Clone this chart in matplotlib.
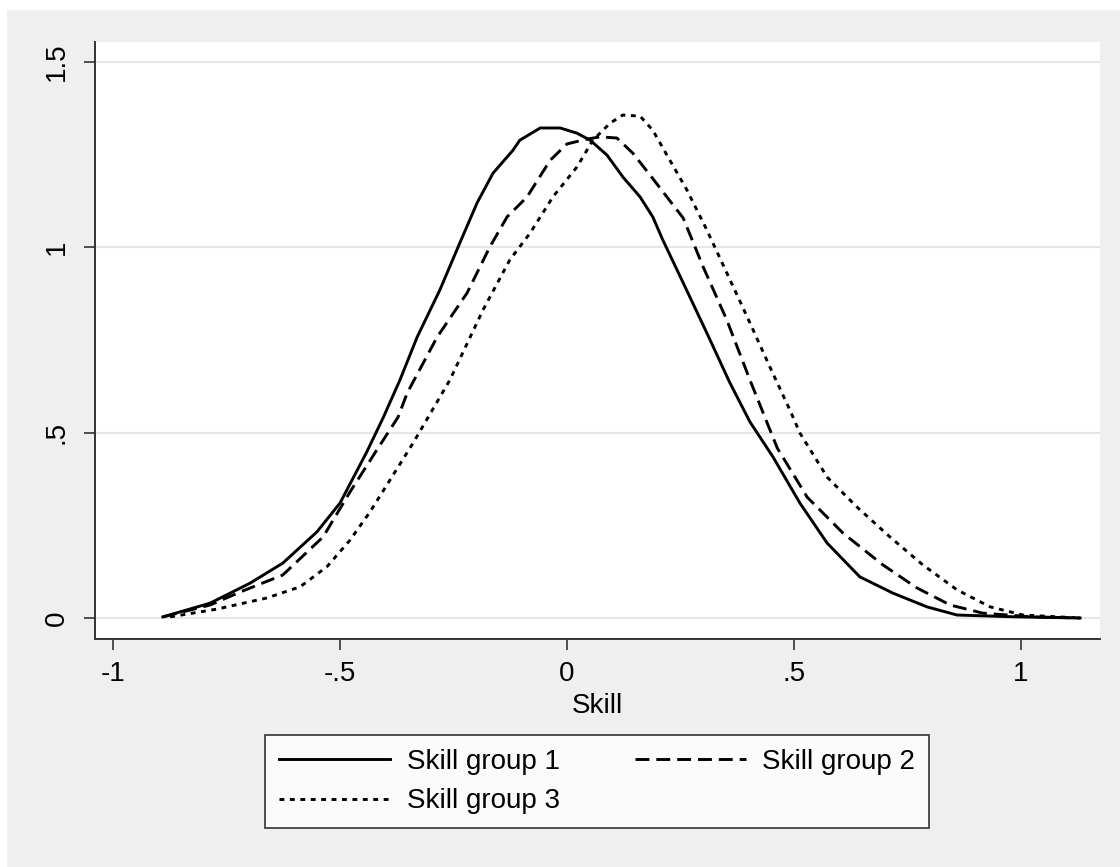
"""Kernel density of skill by skill group (Stata style)."""
import matplotlib.pyplot as plt
from matplotlib.patches import Rectangle

# skill group 1 (solid)
skill_g1 = [-0.890, -0.786, -0.698, -0.626, -0.551, -0.500, -0.441, -0.405, -0.368, -0.330,
            -0.280, -0.236, -0.198, -0.163, -0.119, -0.104, -0.059, -0.015, 0.022, 0.051,
            0.088, 0.123, 0.161, 0.189, 0.211, 0.256, 0.308, 0.359, 0.403, 0.454,
            0.513, 0.573, 0.645, 0.718, 0.793, 0.859, 0.991, 1.130]
dens_g1 = [0.003, 0.040, 0.094, 0.148, 0.232, 0.310, 0.448, 0.540, 0.642, 0.758,
           0.885, 1.012, 1.120, 1.200, 1.262, 1.289, 1.322, 1.322, 1.308, 1.289,
           1.249, 1.190, 1.136, 1.082, 1.020, 0.904, 0.769, 0.634, 0.529, 0.434,
           0.310, 0.202, 0.111, 0.067, 0.030, 0.008, 0.003, 0.000]

# skill group 2 (dashed)
skill_g2 = [-0.890, -0.786, -0.720, -0.626, -0.537, -0.478, -0.419, -0.372, -0.352, -0.286,
            -0.220, -0.170, -0.132, -0.088, -0.037, 0.000, 0.044, 0.073, 0.110, 0.145,
            0.183, 0.220, 0.256, 0.300, 0.352, 0.403, 0.441, 0.463, 0.529, 0.608,
            0.696, 0.771, 0.844, 0.916, 1.026, 1.130]
dens_g2 = [0.003, 0.035, 0.070, 0.116, 0.219, 0.340, 0.453, 0.542, 0.607, 0.758,
           0.877, 1.001, 1.082, 1.136, 1.235, 1.279, 1.292, 1.298, 1.295, 1.254,
           1.195, 1.136, 1.079, 0.947, 0.804, 0.642, 0.526, 0.459, 0.326, 0.229,
           0.143, 0.081, 0.035, 0.013, 0.003, 0.000]

# skill group 3 (dotted)
skill_g3 = [-0.874, -0.771, -0.661, -0.588, -0.529, -0.478, -0.434, -0.390, -0.339, -0.258,
            -0.185, -0.126, -0.081, -0.031, 0.022, 0.057, 0.095, 0.123, 0.161, 0.189,
            0.220, 0.264, 0.308, 0.352, 0.403, 0.447, 0.491, 0.513, 0.573, 0.639,
            0.711, 0.784, 0.859, 0.932, 1.004, 1.130]
dens_g3 = [0.003, 0.024, 0.054, 0.084, 0.138, 0.210, 0.286, 0.372, 0.472, 0.642,
           0.831, 0.966, 1.039, 1.136, 1.217, 1.289, 1.335, 1.357, 1.354, 1.316,
           1.249, 1.155, 1.047, 0.931, 0.796, 0.677, 0.561, 0.499, 0.380, 0.299,
           0.219, 0.143, 0.076, 0.030, 0.008, 0.000]

xticks = [-1, -0.5, 0, 0.5, 1]
xticklabels = ["-1", "-.5", "0", ".5", "1"]
yticks = [0, 0.5, 1, 1.5]
yticklabels = ["0", ".5", "1", "1.5"]

plt.rcParams['font.family'] = ['Liberation Sans', 'DejaVu Sans']
plt.rcParams['lines.scale_dashes'] = False

W, H = 1120, 867
fig = plt.figure(figsize=(W / 100, H / 100), dpi=100, facecolor='white')
fig.patches.append(Rectangle((7 / W, 0), 1 - 7 / W, 1 - 10 / H, transform=fig.transFigure,
                             facecolor='#EFEFEF', edgecolor='none', zorder=-10))

ax = fig.add_axes([95 / W, (H - 639) / H, (1100 - 95) / W, (639 - 42) / H])
ax.set_facecolor('white')

l1, = ax.plot(skill_g1, dens_g1, color='black', lw=2.1, linestyle='-', label='Skill group 1')
l2, = ax.plot(skill_g2, dens_g2, color='black', lw=2.1, linestyle=(0, (10, 5)), label='Skill group 2')
l3, = ax.plot(skill_g3, dens_g3, color='black', lw=2.1, linestyle=(0, (3.5, 4)), label='Skill group 3')

ax.set_xlim(-1.0396, 1.174)
ax.set_ylim(-0.0567, 1.554)
ax.set_xticks(xticks)
ax.set_xticklabels(xticklabels)
ax.set_yticks(yticks)
ax.set_yticklabels(yticklabels, rotation=90, va='center')
ax.grid(axis='y', color='#E6E6E6', lw=1.6)
ax.set_axisbelow(True)

for s in ['top', 'right']:
    ax.spines[s].set_visible(False)
for s in ['left', 'bottom']:
    ax.spines[s].set_color('#333333')
    ax.spines[s].set_linewidth(1.4)

ax.tick_params(axis='both', direction='out', length=8, width=1.2, color='#333333',
               labelsize=20, labelcolor='black')
ax.tick_params(axis='x', pad=8)
ax.tick_params(axis='y', pad=10)
ax.set_xlabel('Skill', fontsize=20, labelpad=4)

leg = fig.legend([l1, l3, l2], ['Skill group 1', 'Skill group 3', 'Skill group 2'],
                 loc='center', bbox_to_anchor=(597 / W, 1 - 781.5 / H), ncol=2,
                 fontsize=20, frameon=True, fancybox=False, edgecolor='black',
                 handlelength=4.0, handletextpad=0.6, columnspacing=2.7,
                 labelspacing=0.5, borderpad=0.5)
leg.get_frame().set_linewidth(1.2)

fig.savefig('out.png', dpi=100, facecolor=fig.get_facecolor())
